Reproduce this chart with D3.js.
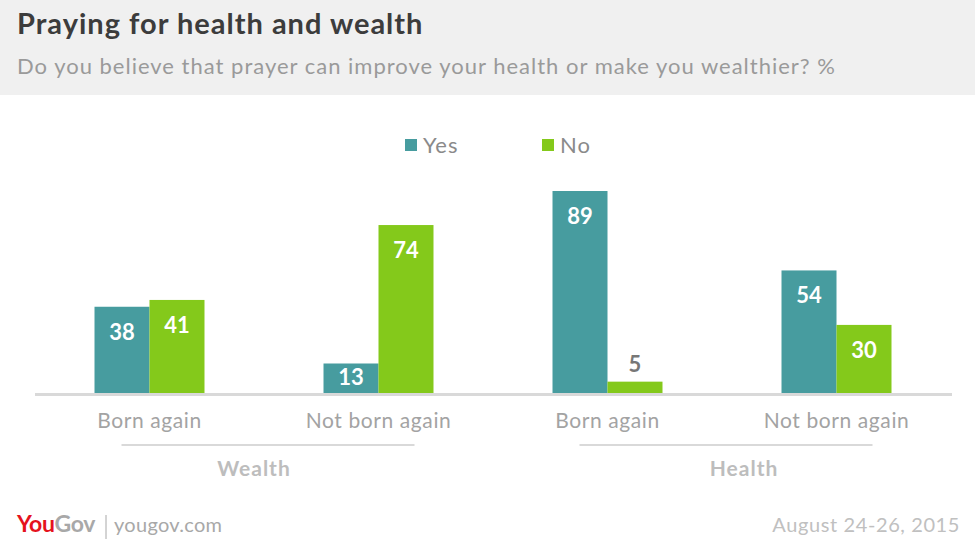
<!DOCTYPE html>
<html>
<head>
<meta charset="utf-8">
<script src="https://cdn.jsdelivr.net/npm/d3@7"></script>
<style>
  body { margin: 0; background: #fff; }
  svg { display: block; font-family: Lato, "Open Sans", sans-serif; }
</style>
</head>
<body>
<svg id="chart" width="975" height="548"></svg>
<script>
const categories = ["Born again", "Not born again", "Born again", "Not born again"]
const groups = ["Wealth", "Wealth", "Health", "Health"]
const groupNames = ["Wealth", "Health"]
const seriesNames = ["Yes", "No"]
const yesValues = [38, 13, 89, 54]
const noValues = [41, 74, 5, 30]

const colors = {Yes: "#479c9f", No: "#84c91b"}

const width = 975
const height = 548
const margin = {left: 35, right: 24, baseline: 393, top: 191}

const svg = d3.select("#chart")

// header band
svg.append("rect").attr("x", 0).attr("y", 0).attr("width", width).attr("height", 95).attr("fill", "#f0f0f0")
svg.append("text").attr("x", 17).attr("y", 34)
  .attr("font-size", 29).attr("font-weight", 700).attr("fill", "#3c3c3c")
  .attr("letter-spacing", 1)
  .text("Praying for health and wealth")
svg.append("text").attr("x", 17).attr("y", 74)
  .attr("font-size", 22).attr("fill", "#9a9a9a")
  .attr("letter-spacing", 1)
  .text("Do you believe that prayer can improve your health or make you wealthier? %")

const idx = d3.range(categories.length)
const xScale = d3.scaleBand().domain(idx).range([margin.left, width - margin.right]).padding(0)
const x1 = d3.scaleBand().domain(seriesNames).range([0, xScale.bandwidth()])
  .paddingInner(0).paddingOuter(1.082)
// 89 sits at y=191
const yScale = d3.scaleLinear().domain([0, 89]).range([margin.baseline, margin.top])

const rows = idx.map(i => ({i, Yes: yesValues[i], No: noValues[i]}))

// bars
const g = svg.append("g")
const cells = g.selectAll("g.cat").data(rows).join("g")
  .attr("transform", d => `translate(${xScale(d.i)},0)`)

const bars = cells.selectAll("g.bar")
  .data(d => seriesNames.map(s => ({s, v: d[s]})))
  .join("g")

bars.append("rect")
  .attr("x", d => x1(d.s))
  .attr("y", d => yScale(d.v))
  .attr("width", x1.bandwidth())
  .attr("height", d => yScale(0) - yScale(d.v))
  .attr("fill", d => colors[d.s])

bars.append("text")
  .attr("x", d => x1(d.s) + x1.bandwidth() / 2)
  .attr("y", d => {
    const h = yScale(0) - yScale(d.v)
    if (h >= 45) return yScale(d.v) + 33
    if (h >= 25) return yScale(d.v) + h / 2 + 7
    return yScale(d.v) - 10
  })
  .attr("text-anchor", "middle")
  .attr("font-size", 22).attr("font-weight", 700)
  .attr("fill", d => (yScale(0) - yScale(d.v)) >= 25 ? "#fff" : "#777")
  .text(d => d.v)

// baseline
svg.append("line")
  .attr("x1", margin.left).attr("x2", width - margin.right + 1)
  .attr("y1", margin.baseline + 1.5).attr("y2", margin.baseline + 1.5)
  .attr("stroke", "#d9d9d9").attr("stroke-width", 3)

// category labels
svg.selectAll("text.cat").data(idx).join("text")
  .attr("x", i => xScale(i) + xScale.bandwidth() / 2)
  .attr("y", 428)
  .attr("text-anchor", "middle")
  .attr("font-size", 21).attr("letter-spacing", 0.6).attr("fill", "#a3a3a3")
  .text(i => categories[i])

// group lines and labels
const labelShift = {Wealth: -14, Health: 18}
groupNames.forEach(name => {
  const members = idx.filter(i => groups[i] === name)
  const c0 = xScale(members[0]) + xScale.bandwidth() / 2
  const c1 = xScale(members[members.length - 1]) + xScale.bandwidth() / 2
  const lx0 = c0 - 28, lx1 = c1 + 36
  svg.append("line").attr("x1", lx0).attr("x2", lx1).attr("y1", 445).attr("y2", 445)
    .attr("stroke", "#d9d9d9").attr("stroke-width", 2)
  svg.append("text").attr("x", (lx0 + lx1) / 2 + labelShift[name]).attr("y", 476)
    .attr("text-anchor", "middle")
    .attr("font-size", 21).attr("font-weight", 700).attr("letter-spacing", 1).attr("fill", "#bdbdbd")
    .text(name)
})

// legend
const legend = svg.append("g")
const legendX = {Yes: 405, No: 542}
seriesNames.forEach(s => {
  legend.append("rect").attr("x", legendX[s]).attr("y", 139).attr("width", 12).attr("height", 12)
    .attr("fill", colors[s])
  legend.append("text").attr("x", legendX[s] + 18).attr("y", 153)
    .attr("font-size", 22).attr("letter-spacing", 1).attr("fill", "#8a8a8a")
    .text(s)
})

// footer
const logo = svg.append("text").attr("x", 17).attr("y", 532)
  .attr("font-size", 23).attr("font-weight", 700).attr("letter-spacing", -0.3)
logo.append("tspan").attr("fill", "#e5131d").text("You")
logo.append("tspan").attr("fill", "#a8a8a8").text("Gov")
svg.append("line").attr("x1", 106).attr("x2", 106).attr("y1", 515).attr("y2", 539)
  .attr("stroke", "#a8a8a8").attr("stroke-width", 1)
svg.append("text").attr("x", 114).attr("y", 532)
  .attr("font-size", 20).attr("letter-spacing", 0.3).attr("fill", "#a8a8a8").text("yougov.com")
svg.append("text").attr("x", 960).attr("y", 532).attr("text-anchor", "end")
  .attr("font-size", 20).attr("letter-spacing", 0.6).attr("fill", "#c0c0c0").text("August 24-26, 2015")
</script>
</body>
</html>
